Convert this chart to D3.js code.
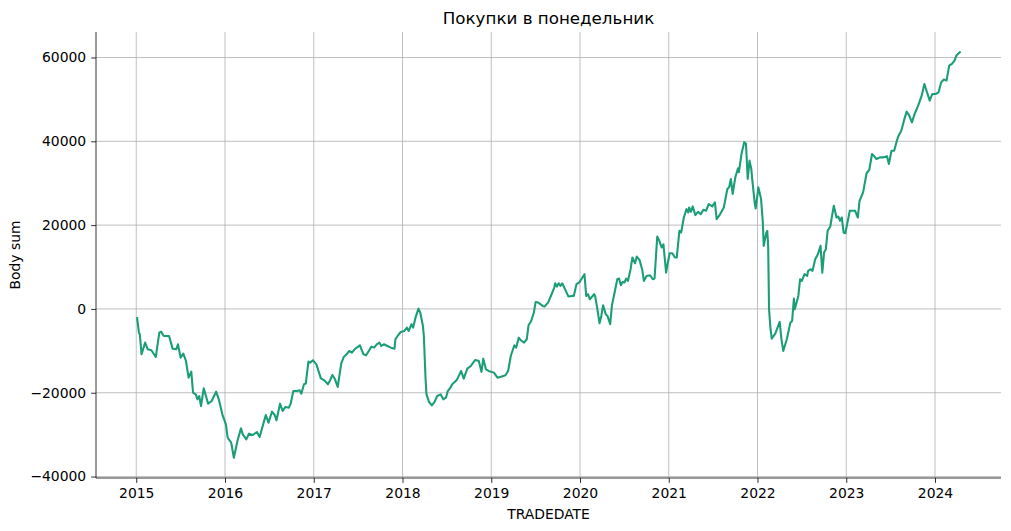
<!DOCTYPE html>
<html><head><meta charset="utf-8">
<script src="https://cdn.jsdelivr.net/npm/d3@7"></script>
<style>body{margin:0;background:#fff}svg{display:block}text{font-family:"DejaVu Sans",sans-serif}</style>
</head><body><svg id="c" width="1011" height="531"></svg>
<script>
const title = "Покупки в понедельник";
const xLabel = "TRADEDATE";
const yLabel = "Body sum";
const xTicks = [2015,2016,2017,2018,2019,2020,2021,2022,2023,2024];
const yTicks = [-40000,-20000,0,20000,40000,60000];
// decimal year of each observation
const dates = [
2015.01,2015.03,2015.04,2015.06,2015.10,2015.13,2015.17,2015.22,2015.26,2015.28,2015.31,2015.37,2015.41,2015.45,2015.47,2015.50,2015.53,2015.56,2015.59,2015.62,2015.64,2015.67,2015.69,2015.71,2015.73,2015.76,2015.78,2015.81,2015.85,2015.90,2015.93,2015.97,
2016.01,2016.03,2016.07,2016.10,2016.14,2016.18,2016.20,2016.24,2016.27,2016.31,2016.36,2016.39,2016.43,2016.46,2016.49,2016.53,2016.56,2016.58,2016.62,2016.65,2016.68,2016.72,2016.74,2016.77,2016.81,2016.84,2016.86,2016.89,2016.91,2016.94,2016.96,2016.99,
2017.03,2017.08,2017.12,2017.16,2017.18,2017.21,2017.24,2017.27,2017.31,2017.34,2017.37,2017.40,2017.43,2017.46,2017.50,2017.52,2017.56,2017.59,2017.62,2017.65,2017.68,2017.71,2017.74,2017.76,2017.79,2017.83,2017.87,2017.91,2017.92,2017.95,2017.98,
2018.02,2018.05,2018.07,2018.10,2018.12,2018.15,2018.18,2018.20,2018.23,2018.24,2018.26,2018.27,2018.30,2018.33,2018.36,2018.39,2018.43,2018.46,2018.49,2018.51,2018.54,2018.56,2018.60,2018.62,2018.66,2018.69,2018.73,2018.77,2018.79,2018.82,2018.86,2018.89,2018.91,2018.94,2018.97,
2019.03,2019.07,2019.11,2019.16,2019.19,2019.22,2019.26,2019.28,2019.31,2019.33,2019.37,2019.40,2019.42,2019.45,2019.48,2019.50,2019.53,2019.58,2019.60,2019.64,2019.68,2019.71,2019.72,2019.74,2019.76,2019.78,2019.80,2019.84,2019.87,2019.91,2019.93,2019.96,2019.99,
2020.02,2020.05,2020.07,2020.09,2020.11,2020.16,2020.17,2020.19,2020.22,2020.24,2020.26,2020.29,2020.31,2020.34,2020.36,2020.39,2020.42,2020.44,2020.46,2020.48,2020.50,2020.52,2020.54,2020.57,2020.59,2020.62,2020.64,2020.67,2020.70,2020.72,2020.75,2020.79,2020.82,2020.84,2020.87,2020.89,2020.92,2020.94,2020.97,2020.99,
2021.01,2021.04,2021.07,2021.09,2021.12,2021.14,2021.17,2021.20,2021.22,2021.23,2021.25,2021.27,2021.30,2021.33,2021.36,2021.39,2021.42,2021.45,2021.49,2021.52,2021.54,2021.58,2021.62,2021.66,2021.68,2021.70,2021.72,2021.75,2021.78,2021.79,2021.82,2021.85,2021.87,2021.89,2021.91,2021.93,2021.94,2021.97,2021.98,
2022.01,2022.04,2022.06,2022.07,2022.10,2022.11,2022.12,2022.13,2022.145,2022.16,2022.20,2022.25,2022.27,2022.29,2022.33,2022.37,2022.39,2022.41,2022.42,2022.46,2022.48,2022.50,2022.53,2022.56,2022.57,2022.60,2022.62,2022.65,2022.68,2022.71,2022.73,2022.75,2022.77,2022.79,2022.82,2022.84,2022.86,2022.89,2022.91,2022.93,2022.95,2022.97,2022.99,
2023.01,2023.04,2023.07,2023.10,2023.13,2023.15,2023.19,2023.21,2023.23,2023.26,2023.29,2023.31,2023.34,2023.38,2023.42,2023.46,2023.48,2023.51,2023.54,2023.57,2023.59,2023.62,2023.65,2023.68,2023.71,2023.74,2023.77,2023.81,2023.85,2023.88,2023.91,2023.94,2023.97,
2024.01,2024.04,2024.07,2024.10,2024.13,2024.16,2024.19,2024.22,2024.24,2024.28
];
const bodySum = [
-2230,-5660,-6050,-10830,-8040,-9630,-9870,-11470,-5660,-5420,-6450,-6450,-9480,-9630,-8440,-11630,-10670,-12420,-16400,-14970,-19990,-20390,-21580,-20790,-23180,-18940,-20390,-22610,-21970,-19750,-21580,-25150,
-27550,-30730,-31930,-35510,-31530,-28500,-29930,-31120,-29770,-30090,-29370,-30570,-27550,-25310,-27150,-24520,-25310,-26580,-22610,-24360,-23400,-23560,-22610,-19590,-19590,-19430,-20230,-17990,-17830,-12580,-12820,-12260,
-13220,-16560,-17040,-17990,-17200,-15760,-16800,-18630,-13000,-11390,-10830,-10030,-10430,-9630,-9000,-8670,-10830,-11070,-10030,-9000,-9240,-8440,-8040,-8840,-8440,-8840,-9240,-9480,-7240,-6290,-5500,
-5260,-4460,-5260,-3660,-4460,-1830,80,-870,-4060,-6290,-16800,-20390,-22230,-23030,-22230,-20790,-20390,-21580,-21180,-19600,-18800,-17990,-17200,-16640,-14810,-16640,-14250,-13610,-12980,-12180,-12420,-15040,-11870,-14410,-14810,
-15200,-16400,-16160,-15840,-14810,-11230,-8670,-9240,-6850,-7410,-8040,-7240,-3900,-2870,-870,1670,1510,720,550,1510,3510,5090,6130,5330,6130,5500,6130,4300,2950,3110,3110,5900,6290,
7250,8290,3110,3510,2310,3510,3110,720,-3420,-1670,870,-1270,-1670,-3660,870,3910,7090,7250,5660,6450,6290,7250,6690,9480,12260,10910,12500,11710,9480,6690,7880,8040,7090,7250,17270,16480,14650,15440,8670,11070,
13300,13300,12260,12260,18630,18230,21810,23820,23020,24220,23180,24460,22390,23180,22630,23660,23420,25020,24460,25420,21430,22630,24220,28610,29010,31020,27430,31420,33570,32620,37010,39800,39410,31020,35400,33410,31020,25020,23980,
29010,26220,20640,15050,18230,18630,15050,-80,-4460,-7090,-5900,-3100,-7250,-10030,-7250,-3270,-2870,2470,-80,3110,7090,6690,8290,7880,9080,9480,9080,11870,13060,15050,8670,13460,14250,18630,19670,22230,24620,21810,22060,21020,21810,18230,18070,
20230,23420,23420,23420,21810,25820,27810,30200,32430,33220,36970,36570,35770,36170,36170,36410,34580,37760,37760,40150,41340,42540,44930,47080,46120,44530,46520,48510,50900,53690,51700,49710,51300,
51300,51700,54090,54730,54490,58070,58470,59260,60460,61250
];

const data = dates.map((d,i)=>({t:d, v:bodySum[i]}));
const svg = d3.select("#c");
const L=96, R=1001, T=32, B=478;
const tMin=d3.min(dates), tMax=d3.max(dates), vMin=d3.min(bodySum), vMax=d3.max(bodySum);
const x = d3.scaleLinear().domain([tMin-(tMax-tMin)*0.05, tMax+(tMax-tMin)*0.05]).range([L,R]);
const y = d3.scaleLinear().domain([vMin-(vMax-vMin)*0.05, vMax+(vMax-vMin)*0.05]).range([B,T]);

// grid
svg.append("g").selectAll("line").data(xTicks).join("line")
  .attr("x1",d=>x(d)).attr("x2",d=>x(d)).attr("y1",T).attr("y2",B)
  .attr("stroke","#b0b0b0").attr("stroke-width",0.8);
svg.append("g").selectAll("line").data(yTicks).join("line")
  .attr("x1",L).attr("x2",R).attr("y1",d=>y(d)).attr("y2",d=>y(d))
  .attr("stroke","#b0b0b0").attr("stroke-width",0.8);

// axes
const xAxis = svg.append("g").attr("transform",`translate(0,${B})`)
  .call(d3.axisBottom(x).tickValues(xTicks).tickFormat(d3.format("d")).tickSize(4.9).tickPadding(4.9));
const yAxis = svg.append("g").attr("transform",`translate(${L},0)`)
  .call(d3.axisLeft(y).tickValues(yTicks).tickFormat(d3.format("d")).tickSize(4.9).tickPadding(4.9));
[xAxis,yAxis].forEach(a=>{
  a.select(".domain").attr("stroke","#000").attr("stroke-width",0.8);
  a.selectAll(".tick line").attr("stroke","#000").attr("stroke-width",0.8);
  a.selectAll(".tick text").attr("fill","#000").attr("font-size","13.9px").attr("font-family","DejaVu Sans");
});
xAxis.select(".domain").attr("d",`M${L},0H${R}`);
yAxis.select(".domain").attr("d",`M0,${T}V${B}`);

// line
svg.append("path").datum(data)
  .attr("fill","none").attr("stroke","#1b9e77").attr("stroke-width",2.08)
  .attr("stroke-linejoin","round").attr("stroke-linecap","square")
  .attr("d", d3.line().x(d=>x(d.t)).y(d=>y(d.v)));

// labels
svg.append("text").attr("x",(L+R)/2).attr("y",T-8.3).attr("text-anchor","middle")
  .attr("font-size","16.7px").text(title);
svg.append("text").attr("x",(L+R)/2).attr("y",519).attr("text-anchor","middle")
  .attr("font-size","13.9px").text(xLabel);
svg.append("text").attr("transform",`translate(20,${(T+B)/2}) rotate(-90)`).attr("text-anchor","middle")
  .attr("font-size","13.9px").text(yLabel);
</script></body></html>
